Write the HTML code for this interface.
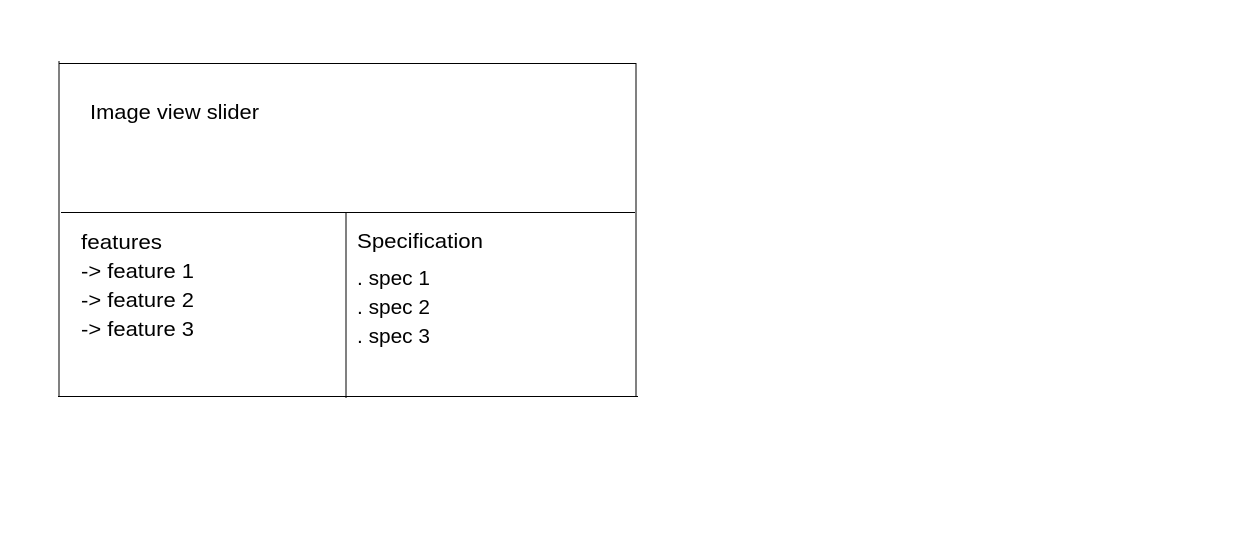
<!DOCTYPE html>
<html><head><meta charset="utf-8"><style>html,body{margin:0;padding:0;background:#fff}svg{display:block}</style></head>
<body>
<svg width="1250" height="554" xmlns="http://www.w3.org/2000/svg" font-family="Liberation Sans, sans-serif" font-size="20" fill="#000">
<g stroke="#000" stroke-width="1.3" shape-rendering="crispEdges">
<line x1="59" y1="61" x2="59" y2="397"/>
<line x1="59" y1="63.5" x2="636" y2="63.5"/>
<line x1="636" y1="63" x2="636" y2="396"/>
<line x1="61" y1="212.5" x2="635" y2="212.5"/>
<line x1="346" y1="212" x2="346" y2="398"/>
<line x1="58" y1="396.5" x2="638" y2="396.5"/>
</g>
<text x="90" y="119" textLength="169" lengthAdjust="spacingAndGlyphs">Image view slider</text>
<text x="81" y="249" textLength="81" lengthAdjust="spacingAndGlyphs">features</text>
<text x="81" y="278" textLength="113" lengthAdjust="spacingAndGlyphs">-&gt; feature 1</text>
<text x="81" y="307" textLength="113" lengthAdjust="spacingAndGlyphs">-&gt; feature 2</text>
<text x="81" y="336" textLength="113" lengthAdjust="spacingAndGlyphs">-&gt; feature 3</text>
<text x="357" y="248" textLength="126" lengthAdjust="spacingAndGlyphs">Specification</text>
<text x="357" y="285" textLength="73" lengthAdjust="spacingAndGlyphs">. spec 1</text>
<text x="357" y="314" textLength="73" lengthAdjust="spacingAndGlyphs">. spec 2</text>
<text x="357" y="343" textLength="73" lengthAdjust="spacingAndGlyphs">. spec 3</text>
</svg>
</body></html>
